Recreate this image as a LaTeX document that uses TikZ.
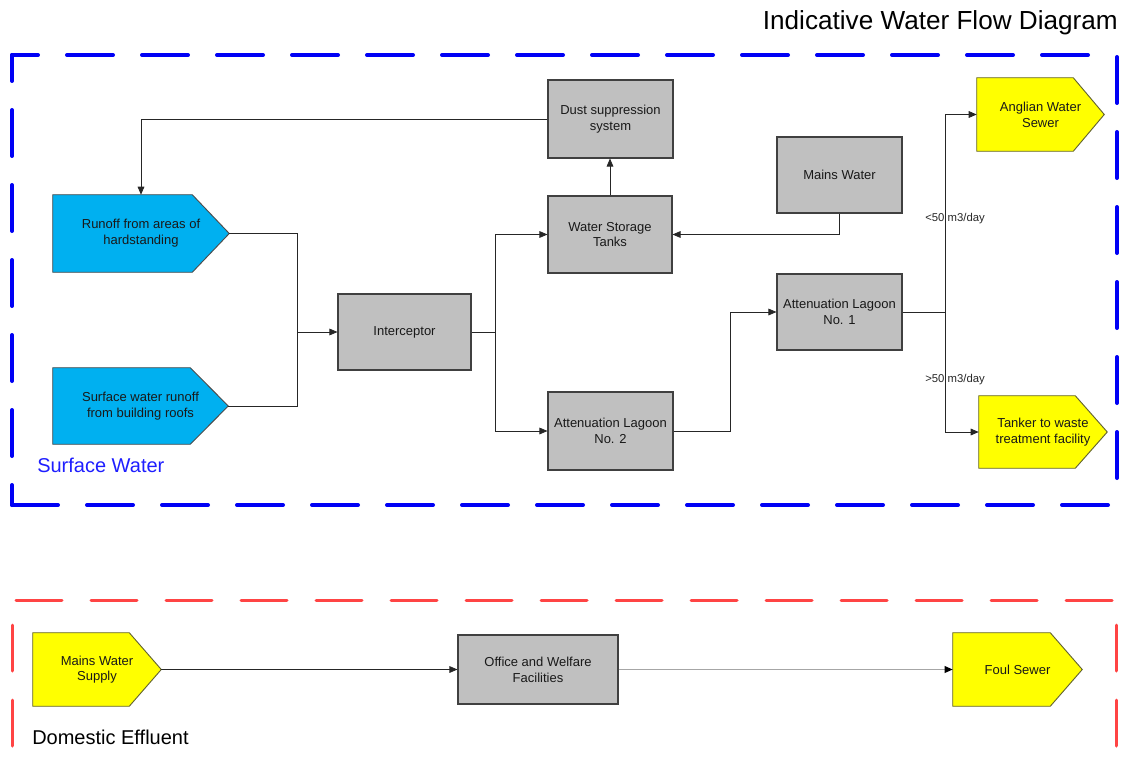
\documentclass[tikz,border=0pt]{standalone}
\usepackage{fontspec}
\setmainfont{Liberation Sans}
\usetikzlibrary{arrows.meta,backgrounds}
\definecolor{boxgray}{RGB}{192,192,192}
\definecolor{runblue}{RGB}{0,176,240}
\definecolor{yel}{RGB}{255,255,0}
\definecolor{yelborder}{RGB}{100,100,50}
\definecolor{frameblue}{RGB}{0,0,245}
\definecolor{framered}{RGB}{255,68,68}
\definecolor{labelblue}{RGB}{30,30,255}
\tikzset{
  sz/.style 2 args={minimum width=#1*0.75pt, minimum height=#2*0.75pt},
  boxfont/.style={font=\fontsize{9.75}{11.8}\selectfont},
  gbox/.style={boxfont, draw=black!75, line width=0.8pt, fill=boxgray, inner sep=0pt, align=center, text=black!90},
  ptext/.style={boxfont, inner sep=0pt, align=center, text=black!90},
  pentblue/.style={draw=black!70, line width=0.7pt, fill=runblue},
  pentyel/.style={draw=yelborder, line width=0.7pt, fill=yel},
  conn/.style={draw=black!85, line width=0.6pt},
  arr/.style={conn, -{Triangle[length=6pt,width=5pt]}},
  grayarr/.style={draw=black!35, line width=1.1pt, -{Triangle[length=6pt,width=5pt,color=black]}},
  bluedash/.style={draw=frameblue, line width=3pt, line cap=round, dash pattern=on 34.5pt off 21.75pt},
  reddash/.style={draw=framered, line width=2.25pt, line cap=round, dash pattern=on 34.5pt off 21.75pt},
  flowlabel/.style={font=\fontsize{8.5}{10}\selectfont, inner sep=0pt, anchor=west, text=black!85},
}
\begin{document}
\begin{tikzpicture}[x=0.75pt,y=-0.75pt]
\useasboundingbox (0,0) rectangle (1125,767);

% title
\node[anchor=east, inner sep=0pt, font=\fontsize{19.6}{23}\selectfont] (title) at (1118,23) {Indicative Water Flow Diagram};

% frames
\draw[bluedash, dash phase=15pt] (12,55) -- (1115,55);
\draw[bluedash, dash phase=15pt] (12,55) -- (12,505);
\draw[bluedash] (1117,57) -- (1117,503);
\draw[bluedash] (12,505) -- (1115,505);

\draw[reddash] (16,600) -- (1116,600);
\draw[reddash] (12,625) -- (12,750);
\draw[reddash] (1116,625) -- (1116,750);

\node[anchor=west, inner sep=0pt, text=labelblue, font=\fontsize{15}{18}\selectfont] (swlabel) at (37,465) {Surface Water};
\node[anchor=west, inner sep=0pt, font=\fontsize{15}{18}\selectfont] (delabel) at (32,737) {Domestic Effluent};

% pentagon nodes (text)
\node[ptext, sz={176}{77}] (run) at (141,233.5) {Runoff from areas of\\hardstanding};
\node[ptext, sz={175}{76}] (surf) at (140.5,406) {Surface water runoff\\from building roofs};
\node[ptext, sz={127}{73}] (ang) at (1040.5,114.5) {Anglian Water\\Sewer};
\node[ptext, sz={128}{72}] (tank) at (1043,432) {Tanker to waste\\treatment facility};
\node[ptext, sz={128}{73}] (mws) at (97,669.5) {Mains Water\\Supply};
\node[ptext, sz={129}{73}] (foul) at (1017.5,669.5) {Foul Sewer};

\begin{scope}[on background layer]
\path[pentblue] (run.north west) -- ([xshift=-27.75pt]run.north east) -- (run.east) -- ([xshift=-27.75pt]run.south east) -- (run.south west) -- cycle;
\path[pentblue] (surf.north west) -- ([xshift=-28.5pt]surf.north east) -- (surf.east) -- ([xshift=-28.5pt]surf.south east) -- (surf.south west) -- cycle;
\path[pentyel] (ang.north west) -- ([xshift=-23.25pt]ang.north east) -- (ang.east) -- ([xshift=-23.25pt]ang.south east) -- (ang.south west) -- cycle;
\path[pentyel] (tank.north west) -- ([xshift=-24pt]tank.north east) -- (tank.east) -- ([xshift=-24pt]tank.south east) -- (tank.south west) -- cycle;
\path[pentyel] (mws.north west) -- ([xshift=-24pt]mws.north east) -- (mws.east) -- ([xshift=-24pt]mws.south east) -- (mws.south west) -- cycle;
\path[pentyel] (foul.north west) -- ([xshift=-24pt]foul.north east) -- (foul.east) -- ([xshift=-24pt]foul.south east) -- (foul.south west) -- cycle;
\end{scope}

% gray boxes
\node[gbox, sz={133}{76}] (intc) at (404.5,332) {Interceptor};
\node[gbox, sz={125}{78}] (dust) at (610.5,119) {Dust suppression\\system};
\node[gbox, sz={124}{77}] (wst) at (610,234.5) {Water Storage\\Tanks};
\node[gbox, sz={125}{76}] (mains) at (839.5,175) {Mains Water};
\node[gbox, sz={125}{78}] (lag2) at (610.5,431) {Attenuation Lagoon\\No. 2};
\node[gbox, sz={125}{76}] (lag1) at (839.5,312) {Attenuation Lagoon\\No. 1};
\node[gbox, sz={160}{69}] (off) at (538,669.5) {Office and Welfare\\Facilities};

% junctions
\coordinate (j1) at (297,332);
\coordinate (j2) at (495,332);
\coordinate (j3) at (730,312);
\coordinate (j4) at (945,312);

% connectors
\draw[conn] (run.east) -| (j1);
\draw[conn] (surf.east) -| (j1);
\draw[arr] (j1) -- (intc.west);
\draw[conn] (intc.east) -- (j2);
\draw[arr] (j2) |- (wst.west);
\draw[arr] (j2) |- (lag2.west);
\draw[arr] (wst.north) -- (wst.north |- dust.south);
\draw[arr] (dust.west) -| (run.north);
\draw[arr] (mains.south) |- (wst.east);
\draw[arr] (lag2.east) -| (j3) -- (lag1.west);
\draw[conn] (lag1.east) -- (j4);
\draw[arr] (j4) |- (ang.west);
\draw[arr] (j4) |- (tank.west);
\draw[arr] (mws.east) -- (off.west);
\draw[grayarr] (off.east) -- (foul.west);

% flow labels
\node[flowlabel] (lt50) at (925,219) {<50 m3/day};
\node[flowlabel] (gt50) at (925,380) {>50 m3/day};
\end{tikzpicture}
\end{document}
